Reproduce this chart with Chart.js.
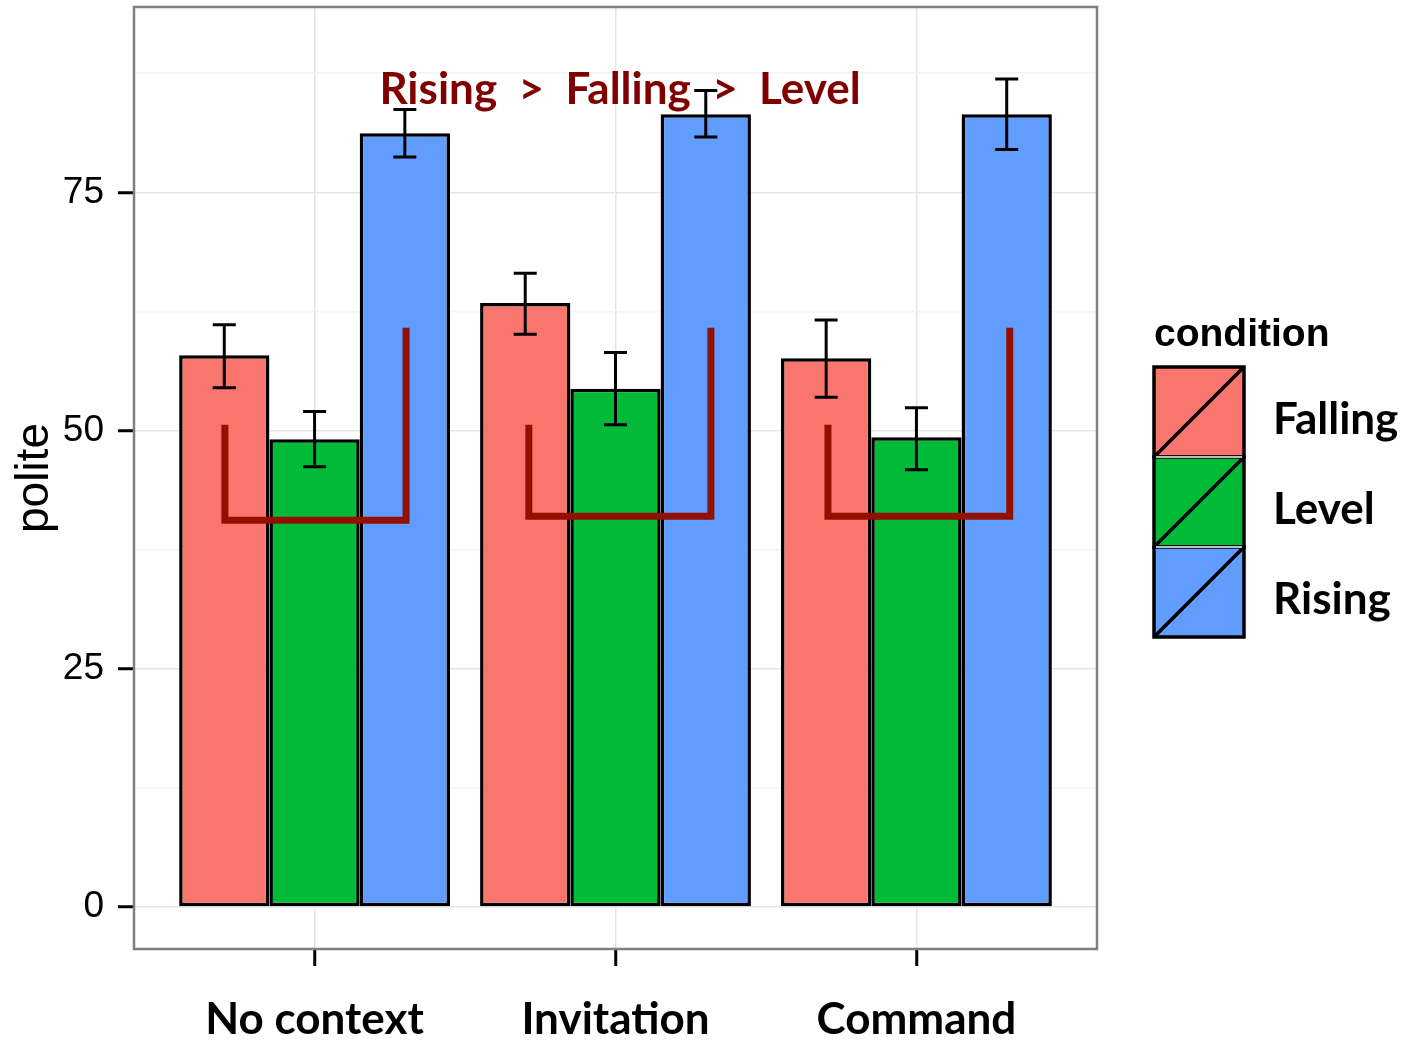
<!DOCTYPE html>
<html>
<head>
<meta charset="utf-8">
<script src="https://cdn.jsdelivr.net/npm/chart.js@4.4.1/dist/chart.umd.min.js"></script>
<style>
  html,body{margin:0;padding:0;background:#fff;}
</style>
</head>
<body>
<canvas id="chart" width="1408" height="1040"></canvas>
<script>
// categories on the x axis (positions 1..3 like ggplot's discrete scale)
const categories = ['No context', 'Invitation', 'Command'];
const categoryPos = [1, 2, 3];
const conditions = ['Falling', 'Level', 'Rising'];
const colors = ['#F8766D', '#00BA38', '#619CFF'];

// mean politeness per condition
const falling = [57.9, 63.4, 57.6];
const level   = [49.1, 54.4, 49.3];
const rising  = [81.2, 83.2, 83.2];

// error bar ends
const fallingLow  = [54.5, 60.1, 53.5];
const fallingHigh = [61.1, 66.5, 61.6];
const levelLow    = [46.2, 50.6, 45.9];
const levelHigh   = [52.0, 58.2, 52.4];
const risingLow   = [78.7, 80.8, 79.5];
const risingHigh  = [83.7, 85.7, 86.9];

// y ticks (major labelled, minor only gridlines)
const yTicks = [0, 12.5, 25, 37.5, 50, 62.5, 75, 87.5];
const yMajor = [0, 25, 50, 75];

// dark red brackets
const bracketLeftX  = [0.702, 1.712, 2.706];
const bracketRightX = [1.304, 2.317, 3.310];
const bracketLeftY  = [50.6, 50.6, 50.6];
const bracketBaseY  = [40.6, 41.0, 41.0];
const bracketRightY = [60.8, 60.8, 60.8];

const annotationText = 'Rising  >  Falling  >  Level';
const annotationX = 2.015;
const annotationY = 84.3;

const series = [falling, level, rising];
const lows = [fallingLow, levelLow, risingLow];
const highs = [fallingHigh, levelHigh, risingHigh];

const barSets = conditions.map((c, d) => ({
  type: 'bar',
  label: c,
  data: categoryPos.map((x, i) => ({x: x, y: series[d][i]})),
  backgroundColor: colors[d],
  borderColor: '#000',
  borderWidth: 3.5,
  borderSkipped: false,
  barPercentage: 1,
  categoryPercentage: 0.9,
  order: 1
}));

const bracketSets = categoryPos.map((x, i) => ({
  type: 'line',
  label: 'bracket' + i,
  data: [
    {x: bracketLeftX[i], y: bracketLeftY[i]},
    {x: bracketLeftX[i], y: bracketBaseY[i]},
    {x: bracketRightX[i], y: bracketBaseY[i]},
    {x: bracketRightX[i], y: bracketRightY[i]}
  ],
  borderColor: '#921000',
  borderWidth: 7,
  borderJoinStyle: 'miter',
  pointRadius: 0,
  tension: 0,
  fill: false,
  order: 0
}));

const lato = '"Lato", "Open Sans", sans-serif';
const arial = '"Liberation Sans", Arial, sans-serif';

// error bars + text + legend + panel border
const extras = {
  id: 'extras',
  afterDatasetsDraw(chart) {
    const {ctx, chartArea: a, scales: {x, y}} = chart;
    ctx.save();
    // annotation text
    ctx.fillStyle = '#800000';
    ctx.font = 'bold 44px ' + lato;
    ctx.textAlign = 'center';
    ctx.textBaseline = 'alphabetic';
    ctx.fillText(annotationText, x.getPixelForValue(annotationX), y.getPixelForValue(annotationY));
    // error bars
    ctx.strokeStyle = '#000';
    ctx.lineWidth = 3;
    conditions.forEach((c, d) => {
      const meta = chart.getDatasetMeta(bracketSets.length + d);
      meta.data.forEach((bar, i) => {
        const yl = y.getPixelForValue(lows[d][i]);
        const yh = y.getPixelForValue(highs[d][i]);
        ctx.beginPath();
        ctx.moveTo(bar.x, yl); ctx.lineTo(bar.x, yh);
        ctx.moveTo(bar.x - 11.5, yl); ctx.lineTo(bar.x + 11.5, yl);
        ctx.moveTo(bar.x - 11.5, yh); ctx.lineTo(bar.x + 11.5, yh);
        ctx.stroke();
      });
    });
    // panel border
    ctx.strokeStyle = '#7f7f7f';
    ctx.lineWidth = 2.5;
    ctx.strokeRect(a.left, a.top, a.right - a.left, a.bottom - a.top);

    // legend
    const lx = a.right + 57, size = 90, top0 = 367;
    ctx.fillStyle = '#000';
    ctx.font = 'bold 39px ' + arial;
    ctx.textAlign = 'left';
    ctx.fillText('condition', lx, 346);
    conditions.forEach((c, d) => {
      const ty = top0 + d * size;
      ctx.fillStyle = colors[d];
      ctx.fillRect(lx, ty, size, size);
      ctx.strokeStyle = '#000';
      ctx.lineWidth = 3.5;
      ctx.beginPath();
      ctx.moveTo(lx, ty + size); ctx.lineTo(lx + size, ty);
      ctx.stroke();
      ctx.strokeRect(lx, ty, size, size);
      ctx.fillStyle = '#000';
      ctx.font = 'bold 44px ' + lato;
      ctx.fillText(c, lx + 119, ty + 67);
    });
    ctx.strokeStyle = '#bdbdbd';
    ctx.lineWidth = 2;
    for (let d = 1; d < conditions.length; d++) {
      ctx.beginPath();
      ctx.moveTo(lx + 2, top0 + d * size); ctx.lineTo(lx + size - 2, top0 + d * size);
      ctx.stroke();
    }
    ctx.restore();
  }
};

new Chart(document.getElementById('chart'), {
  data: {datasets: [...bracketSets, ...barSets]},
  options: {
    responsive: false,
    animation: false,
    layout: {padding: {top: 7, right: 311, bottom: 0, left: 0}},
    plugins: {legend: {display: false}, tooltip: {enabled: false}},
    scales: {
      x: {
        type: 'linear',
        min: 0.4, max: 3.6,
        offset: false,
        afterBuildTicks(s) { s.ticks = categoryPos.map(v => ({value: v})); },
        afterFit(s) { s.height = 91; s.paddingLeft = 0; s.paddingRight = 0; },
        border: {display: false},
        grid: {offset: false, color: '#e5e5e5', lineWidth: 1.5, tickLength: 17, tickColor: '#000', tickWidth: 3},
        ticks: {
          padding: 27,
          color: '#000',
          font: {family: lato, size: 44, weight: 'bold'},
          callback: v => categories[categoryPos.indexOf(v)]
        }
      },
      y: {
        min: -4.4, max: 94.45,
        afterBuildTicks(s) { s.ticks = yTicks.map(v => ({value: v})); },
        afterFit(s) { s.width = 134; s.paddingTop = 0; s.paddingBottom = 0; },
        border: {display: false},
        grid: {
          color: c => yMajor.includes(c.tick.value) ? '#e5e5e5' : '#f4f4f4',
          lineWidth: 1.5,
          tickLength: 16,
          tickWidth: 3,
          tickColor: c => yMajor.includes(c.tick.value) ? '#000' : 'rgba(0,0,0,0)'
        },
        ticks: {
          padding: 14,
          color: '#000',
          font: {family: arial, size: 37},
          callback: v => yMajor.includes(v) ? String(v) : ''
        },
        title: {
          display: true,
          text: 'polite',
          color: '#000',
          font: {family: arial, size: 46},
          padding: {top: 8, bottom: 0}
        }
      }
    }
  },
  plugins: [extras]
});
</script>
</body>
</html>
